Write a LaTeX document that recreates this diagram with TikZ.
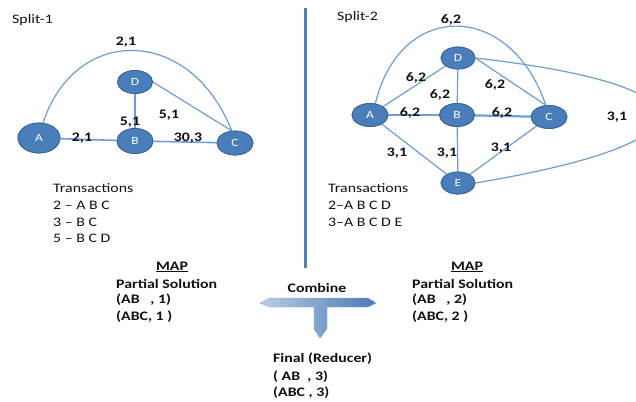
\documentclass[tikz,border=0pt]{standalone}
\usepackage{fontspec}
\setmainfont{Carlito}[FakeStretch=1.22]
\usetikzlibrary{shapes.geometric}
\definecolor{nodefill}{HTML}{4A7EBB}
\definecolor{nodeedge}{HTML}{3A6594}
\definecolor{edgeblue}{HTML}{6F9DD3}
\definecolor{lineblue}{HTML}{4F81BD}
\definecolor{txt}{HTML}{111111}
\tikzset{
  vtx/.style={ellipse, fill=nodefill, draw=nodeedge, line width=0.8pt, text=white,
    inner sep=0pt, font=\fontsize{11}{12}\selectfont},
  edg/.style={draw=edgeblue, line width=1.2pt},
  thickedg/.style={draw=edgeblue, line width=2.2pt},
  lbl/.style={text=txt, font=\fontsize{13}{14}\bfseries\selectfont, inner sep=0pt},
  txtl/.style={anchor=west, text=txt, font=\fontsize{13}{14}\selectfont, inner sep=0pt},
  txtb/.style={anchor=west, text=txt, font=\fontsize{13}{14}\bfseries\selectfont, inner sep=0pt},
  ttl/.style={text=txt, font=\fontsize{13}{14}\bfseries\selectfont, inner sep=0pt}
}
\begin{document}
\begin{tikzpicture}[x=1pt,y=-1pt]
\useasboundingbox (0,0) rectangle (636,401);
\clip (0,0) rectangle (636,401);
\fill[white] (0,0) rectangle (636,401);

% ---------- Split-1 ----------
\node[txtl] (s1) at (12,20) {Split-1};
\node[vtx, minimum width=42pt, minimum height=30pt] (A1) at (39,138) {A};
\node[vtx, minimum width=36pt, minimum height=25pt] (B1) at (135,141) {B};
\node[vtx, minimum width=36pt, minimum height=24pt] (C1) at (235,143) {C};
\node[vtx, minimum width=35pt, minimum height=23pt] (D1) at (135,82) {D};

\draw[edg] (A1.75) .. controls (75,25) and (190,25) .. (C1.105);
\draw[edg] (D1.east) -- (C1.105);
\draw[edg] (D1) -- (B1);
\draw[edg, line width=1.6pt] (A1) -- (B1);
\draw[edg, line width=1.6pt] (B1) -- (C1);
% redraw nodes on top of connectors
\node[vtx, minimum width=42pt, minimum height=30pt] at (A1) {A};
\node[vtx, minimum width=36pt, minimum height=25pt] at (B1) {B};
\node[vtx, minimum width=36pt, minimum height=24pt] at (C1) {C};
\node[vtx, minimum width=35pt, minimum height=23pt] at (D1) {D};

\node[lbl] (l1) at (126,42) {2,1};
\node[lbl] (l2) at (130,122) {5,1};
\node[lbl] (l3) at (169,115) {5,1};
\node[lbl] (l4) at (82,138) {2,1};
\node[lbl] (l5) at (188,138) {30,3};

\node[txtl] (t1) at (53,188) {Transactions};
\node[txtl] (t2) at (53,205) {2 -- A B C};
\node[txtl] (t3) at (53,222) {3 -- B C};
\node[txtl] (t4) at (53,238) {5 -- B C D};

% ---------- divider ----------
\coordinate (vtop) at (305,8);
\coordinate (vbot) at (305,268);
\draw[lineblue, line width=3pt] (vtop) -- (vbot);

% ---------- Split-2 ----------
\node[txtl] (s2) at (337,17) {Split-2};
\node[vtx, minimum width=36pt, minimum height=23pt] (A2) at (370,115) {A};
\node[vtx, minimum width=35pt, minimum height=23pt] (B2) at (457,115) {B};
\node[vtx, minimum width=36pt, minimum height=23pt] (C2) at (549,117) {C};
\node[vtx, minimum width=34pt, minimum height=22pt] (D2) at (458,58) {D};
\node[vtx, minimum width=34pt, minimum height=22pt] (E2) at (458,183) {E};

\draw[edg] (A2.65) .. controls (400,0) and (510,0) .. (C2.105);
\draw[edg] (D2.east) .. controls (720,86) and (720,142) .. (E2.east);
\draw[edg] (A2) -- (D2);
\draw[edg] (D2) -- (B2);
\draw[edg] (D2.east) -- (C2.105);
\draw[edg] (A2) -- (E2);
\draw[edg] (B2) -- (E2);
\draw[edg] (C2) -- (E2);
\draw[thickedg] (A2) -- (B2);
\draw[thickedg] (B2) -- (C2);
\node[vtx, minimum width=36pt, minimum height=23pt] at (A2) {A};
\node[vtx, minimum width=35pt, minimum height=23pt] at (B2) {B};
\node[vtx, minimum width=36pt, minimum height=23pt] at (C2) {C};
\node[vtx, minimum width=34pt, minimum height=22pt] at (D2) {D};
\node[vtx, minimum width=34pt, minimum height=22pt] at (E2) {E};

\node[lbl] (m1) at (451,20) {6,2};
\node[lbl] (m2) at (416,78) {6,2};
\node[lbl] (m3) at (440,95) {6,2};
\node[lbl] (m4) at (410,113) {6,2};
\node[lbl] (m5) at (502,113) {6,2};
\node[lbl] (m6) at (495,85) {6,2};
\node[lbl] (m7) at (617,117) {3,1};
\node[lbl] (m8) at (397,153) {3,1};
\node[lbl] (m9) at (447,153) {3,1};
\node[lbl] (m10) at (501,148) {3,1};

\node[txtl] (u1) at (328,188) {Transactions};
\node[txtl] (u2) at (328,205) {2--A B C D};
\node[txtl] (u3) at (328,222) {3--A B C D E};

% ---------- bottom ----------
\node[ttl] (map1) at (172,267) {\underline{MAP}};
\node[txtb] (p1) at (116,284) {Partial Solution};
\node[txtb] (p2) at (116,300) {(AB\ \ \ , 1)};
\node[txtb] (p3) at (116,317) {(ABC, 1 )};

\node[ttl] (map2) at (467,267) {\underline{MAP}};
\node[txtb] (q1) at (412,284) {Partial Solution};
\node[txtb] (q2) at (412,300) {(AB\ \ \ , 2)};
\node[txtb] (q3) at (412,317) {(ABC, 2 )};

\node[ttl] (comb) at (317,288) {Combine};

\shade[left color=lineblue!40, right color=lineblue!95!black, draw=lineblue!70, line width=0.3pt]
  (260,303) -- (270,298) -- (368,298) -- (376,303) -- (368,307) -- (327,307)
  -- (327,329) -- (320,338) -- (314,329) -- (314,307) -- (270,307) -- cycle;

\node[txtb] (f1) at (273,359) {Final (Reducer)};
\node[txtb] (f2) at (273,377) {( AB\ \ , 3)};
\node[txtb] (f3) at (273,393) {(ABC , 3)};
\end{tikzpicture}
\end{document}
